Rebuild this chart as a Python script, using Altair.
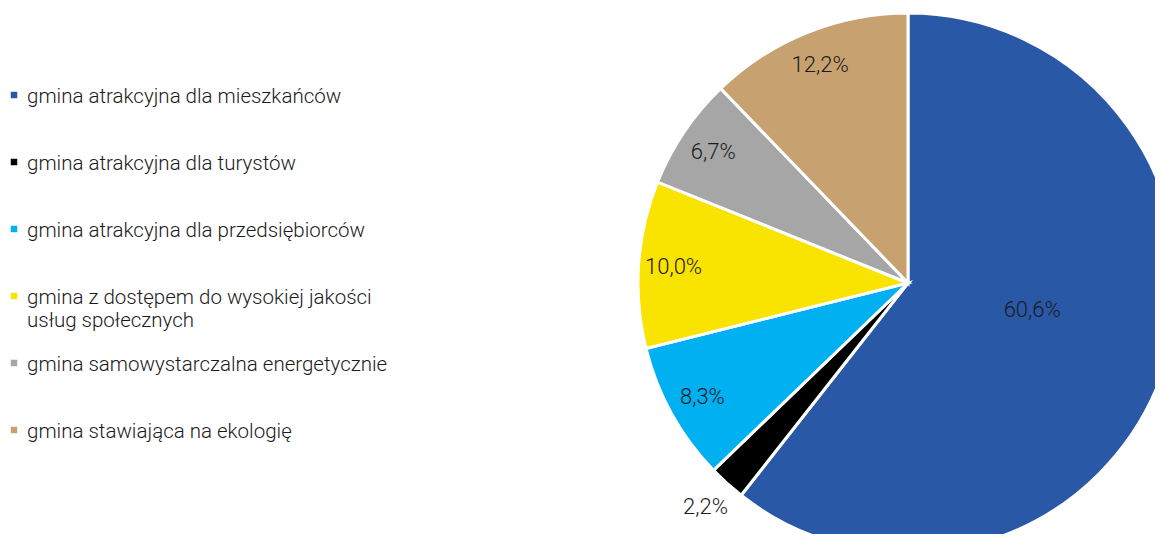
import altair as alt
import pandas as pd
import math

categories = [
    "gmina atrakcyjna dla mieszkańców",
    "gmina atrakcyjna dla turystów",
    "gmina atrakcyjna dla przedsiębiorców",
    "gmina z dostępem do wysokiej jakości\nusług społecznych",
    "gmina samowystarczalna energetycznie",
    "gmina stawiająca na ekologię",
]
values = [60.6, 2.2, 8.3, 10.0, 6.7, 12.2]
colors = ["#2958A6", "#000000", "#00B0F0", "#F9E300", "#A6A6A6", "#C8A170"]

df = pd.DataFrame({"cat": categories, "v": values, "i": list(range(len(categories)))})

FONT = "Roboto"
WEIGHT = 300
TXT = "#1a1a1a"

color = alt.Color("cat:N", scale=alt.Scale(domain=categories, range=colors), legend=None)
tscale = alt.Scale(domain=[0, 100], range=[0, 2 * math.pi])

base = alt.Chart(df).transform_stack(
    stack="v", groupby=[], as_=["v0", "v1"], sort=[alt.SortField("i", order="ascending")]
)

pie = base.mark_arc(stroke="white", strokeWidth=3, radius=270, clip=True).encode(
    theta=alt.Theta("v0:Q", scale=tscale, stack=None),
    theta2="v1:Q",
    color=color,
    x=alt.value(900),
    y=alt.value(275),
)

labels = base.transform_calculate(
    mid="datum.v > 50 ? datum.v0 + datum.v * 0.468 : (datum.v0 + datum.v1) / 2",
    lab="replace(format(datum.v, '.1f'), '.', ',') + '%'",
    lr="datum.v > 50 ? 127 : (datum.v < 3 ? 302 : 235)",
).mark_text(font=FONT, fontWeight=WEIGHT, fontSize=22, color=TXT).encode(
    theta=alt.Theta("mid:Q", scale=tscale, stack=None),
    radius=alt.Radius("lr:Q", scale=None),
    text="lab:N",
    x=alt.value(900),
    y=alt.value(275),
)

ypos = alt.Y("i:Q", scale=alt.Scale(domain=[0, 5], range=[87, 422], nice=False, zero=False), axis=None)

squares = alt.Chart(df).mark_square(size=42, opacity=1).encode(
    x=alt.value(6), y=ypos, color=color
)
legtext = alt.Chart(df).mark_text(
    align="left", baseline="alphabetic", dy=7.5, lineBreak="\n", lineHeight=23,
    fontSize=20.5, font=FONT, fontWeight=WEIGHT, color=TXT,
).encode(x=alt.value(19), y=ypos, text="cat:N")

chart = alt.layer(pie, labels, squares, legtext).properties(
    width=1147, height=526, padding=0,
    autosize=alt.AutoSizeParams(type="none"),
).configure_view(stroke=None)

chart.save("out.html", embed_options={"renderer": "svg", "actions": False})
